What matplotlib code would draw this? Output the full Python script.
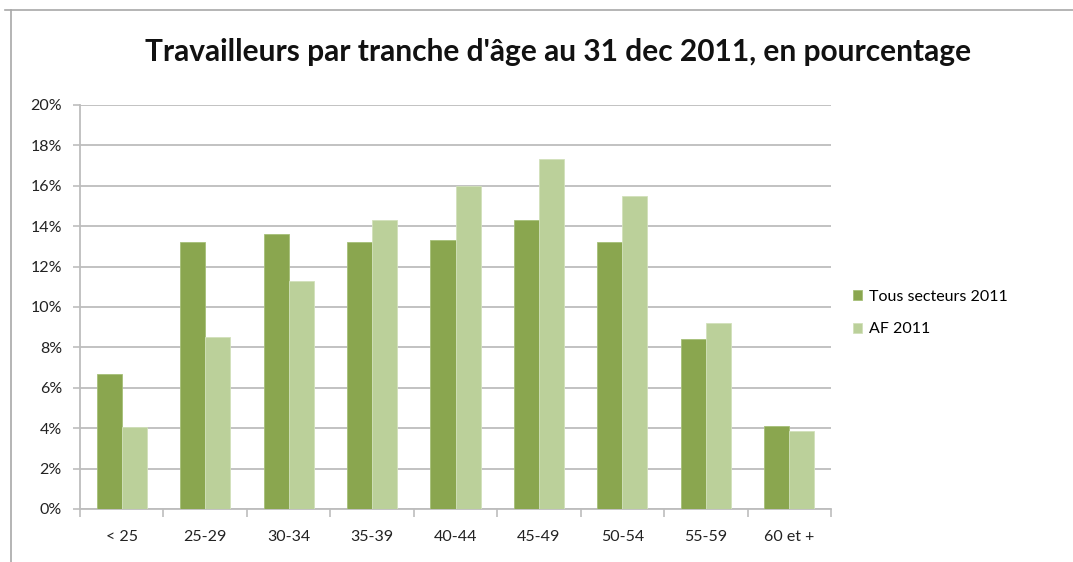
import matplotlib.pyplot as plt
import numpy as np
from matplotlib.lines import Line2D
from matplotlib.ticker import FuncFormatter

# data
categories = ['< 25', '25-29', '30-34', '35-39', '40-44', '45-49', '50-54', '55-59', '60 et +']
tous_secteurs = [6.7, 13.2, 13.6, 13.2, 13.3, 14.3, 13.2, 8.4, 4.1]
af_2011 = [4.05, 8.5, 11.3, 14.3, 16.0, 17.35, 15.5, 9.2, 3.85]
series_names = ['Tous secteurs 2011', 'AF 2011']

dpi = 100
fig = plt.figure(dpi=dpi, figsize=(1073 / dpi, 562 / dpi))
plt.rcParams['font.family'] = ['Lato', 'DejaVu Sans']

ax = fig.add_axes([80 / 1073, 1 - 509 / 562, 751 / 1073, 404 / 562])

x = np.arange(len(categories))
w = 0.3
ax.bar(x - w / 2, tous_secteurs, w, color='#8aa64f', edgecolor='#a6bf78', linewidth=0.6,
       label=series_names[0], zorder=3)
ax.bar(x + w / 2, af_2011, w, color='#bbd09a', edgecolor='#d2e1bb', linewidth=0.6,
       label=series_names[1], zorder=3)

ax.set_xlim(-0.5, len(categories) - 0.5)
ax.set_ylim(0, 20)
ax.set_yticks(np.arange(0, 21, 2))
ax.yaxis.set_major_formatter(FuncFormatter(lambda v, p: '%d%%' % v))
ax.grid(axis='y', color='#bdbdbd', linewidth=1.3, zorder=0)

ax.set_xticks(x)
ax.set_xticklabels(categories)
ax.set_xticks(np.arange(-0.5, len(categories), 1), minor=True)
ax.tick_params(axis='x', which='major', length=0, pad=15, labelsize=11.5, labelcolor='#222222')
ax.tick_params(axis='x', which='minor', length=6, width=1.2, color='#bdbdbd', direction='out')
ax.tick_params(axis='y', length=5, width=1.2, color='#bdbdbd', pad=8, labelsize=11.5,
               labelcolor='#222222')

for side in ['top', 'right']:
    ax.spines[side].set_visible(False)
for side in ['left', 'bottom']:
    ax.spines[side].set_color('#bdbdbd')
    ax.spines[side].set_linewidth(1.3)

ax.legend(loc='center left', bbox_to_anchor=(1.01, 0.485), frameon=False, fontsize=11.5,
          handlelength=0.6, handleheight=0.6, handletextpad=0.4, labelspacing=1.15)

fig.text(0.52, 1 - 52 / 562, "Travailleurs par tranche d'âge au 31 dec 2011, en pourcentage",
         ha='center', va='center', fontsize=21.5, fontweight='bold', color='#111111')

# chart frame (only top and left edges visible)
fig.add_artist(Line2D([5 / 1073, 1], [1 - 10 / 562, 1 - 10 / 562], color='#a8a8a8', linewidth=1.2))
fig.add_artist(Line2D([11 / 1073, 11 / 1073], [0, 1 - 10 / 562], color='#a8a8a8', linewidth=1.2))

fig.savefig('out.png', dpi=dpi)
